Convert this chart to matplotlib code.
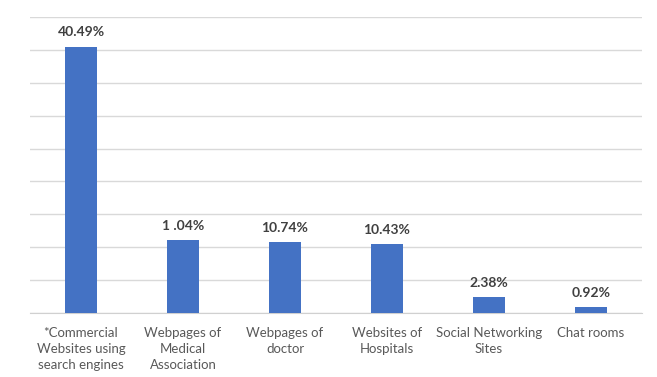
import matplotlib.pyplot as plt

plt.rcParams['font.family'] = ['Lato', 'DejaVu Sans']

categories = ["*Commercial\nWebsites using\nsearch engines",
              "Webpages of\nMedical\nAssociation",
              "Webpages of\ndoctor",
              "Websites of\nHospitals",
              "Social Networking\nSites",
              "Chat rooms"]
values = [40.49, 11.04, 10.74, 10.43, 2.38, 0.92]
value_labels = ["40.49%", "1 .04%", "10.74%", "10.43%", "2.38%", "0.92%"]

fig = plt.figure(figsize=(6.57, 3.77), dpi=100)
ax = fig.add_axes([30 / 657, 64 / 377, 612 / 657, 296 / 377])

x = range(len(values))
bars = ax.bar(x, values, width=0.31, color="#4472C4", zorder=3)

for b, lab in zip(bars, value_labels):
    ax.annotate(lab, (b.get_x() + b.get_width() / 2, b.get_height()),
                xytext=(0, 6), textcoords="offset points",
                ha="center", va="bottom", fontsize=10, fontweight="bold",
                color="#404040")

ax.set_ylim(0, 45)
ax.set_xlim(-0.5, len(values) - 0.5)
ax.set_yticks(range(0, 46, 5))
ax.yaxis.grid(True, color="#d9d9d9", linewidth=1, zorder=0)
ax.tick_params(axis="y", left=False, labelleft=False)
ax.set_xticks(list(x))
ax.set_xticklabels(categories, fontsize=9.5, color="#595959", linespacing=1.4)
ax.tick_params(axis="x", length=0, pad=10)

for s in ["top", "left", "right"]:
    ax.spines[s].set_visible(False)
ax.spines["bottom"].set_color("#d0d0d0")

plt.savefig("out.png", dpi=100)
